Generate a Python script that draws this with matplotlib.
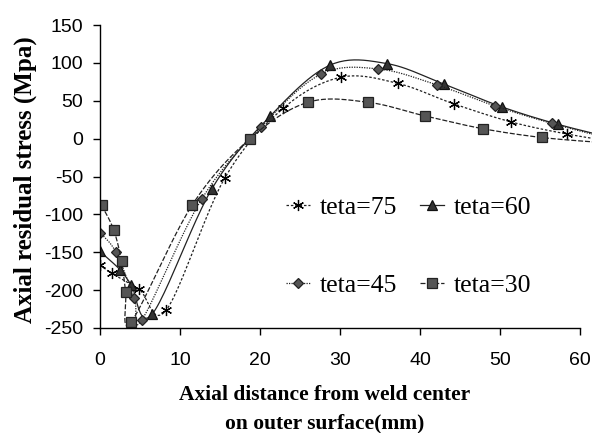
import matplotlib
matplotlib.use('Agg')
import matplotlib.pyplot as plt
import numpy as np

plt.rcParams['axes.unicode_minus'] = False

# axial residual stress along the outer surface, four weld angles
x75 = [0, 1.5, 4.9, 8.3, 15.6, 22.9, 30.1, 37.2, 44.2, 51.4, 58.4, 65.5]
y75 = [-167, -178, -199, -226, -52, 40, 81, 73, 46, 22, 6, -6]

x60 = [0, 2.5, 3.9, 6.5, 14.0, 21.3, 28.75, 35.9, 43.0, 50.2, 57.2, 64.4]
y60 = [-149, -173, -193, -232, -66, 30, 97, 99, 72, 42, 19, 0]

x45 = [0, 2.0, 4.3, 5.25, 12.7, 20.1, 27.6, 34.8, 42.1, 49.4, 56.5, 63.7]
y45 = [-124, -150, -211, -239, -80, 15, 85, 92, 71, 43, 20, 0]

x30 = [0.2, 1.7, 2.7, 3.2, 3.9, 11.5, 18.75, 26.0, 33.5, 40.6, 47.9, 55.2, 62.5]
y30 = [-88, -120, -162, -202, -242, -88, 0, 48, 48, 30, 13, 1.5, -5]

labels = ['teta=75', 'teta=60', 'teta=45', 'teta=30']


def smooth(xs, ys, n=24):
    # bezier smoothing through every point (same idea as a spreadsheet "smoothed line")
    p = np.column_stack([xs, ys]).astype(float)
    p = np.vstack([p[0], p, p[-1]])
    t = np.linspace(0, 1, n, endpoint=False)[:, None]
    out = []
    for i in range(1, len(p) - 2):
        p0, p1, p2, p3 = p[i - 1], p[i], p[i + 1], p[i + 2]
        c1 = p1 + (p2 - p0) / 6
        c2 = p2 - (p3 - p1) / 6
        out.append((1 - t)**3 * p1 + 3 * (1 - t)**2 * t * c1
                   + 3 * (1 - t) * t**2 * c2 + t**3 * p2)
    out.append(p[-2][None])
    c = np.vstack(out)
    return c[:, 0], c[:, 1]


fig = plt.figure(figsize=(5.92, 4.33), dpi=100)
ax = fig.add_axes([100/592, 105/433, 492/592, 303/433])

styles = [
    (x75, y75, (6, 2, 0), 8, 'black', 'black', (0, (2, 1.5))),
    (x60, y60, '^', 7, '#333333', '#111111', '-'),
    (x45, y45, 'D', 5.5, '#555555', '#222222', (0, (1, 1))),
    (x30, y30, 's', 7, '#555555', '#222222', (0, (4, 1.5))),
]

handles = []
for (xs, ys, mk, ms, fc, ec, ls), lab in zip(styles, labels):
    sx, sy = smooth(xs, ys)
    ax.plot(sx, sy, color='#222222', lw=0.9, ls=ls)
    ax.plot(xs, ys, ls='none', marker=mk, ms=ms, mfc=fc, mec=ec, mew=0.9)
    h, = ax.plot([], [], color='#222222', lw=0.9, ls=ls, marker=mk, ms=ms,
                 mfc=fc, mec=ec, mew=0.9)
    handles.append(h)

ax.set_xlim(0, 61.5)
ax.set_ylim(-250, 150)
ax.set_xticks(np.arange(0, 61, 10))
ax.set_yticks(np.arange(-250, 151, 50))
ax.spines['top'].set_visible(False)
ax.spines['right'].set_visible(False)
ax.spines['bottom'].set_bounds(0, 60)
ax.spines['left'].set_linewidth(1.0)
ax.spines['bottom'].set_linewidth(1.0)
ax.tick_params(direction='out', length=5, width=1.0)
ax.tick_params(axis='x', pad=12)
ax.tick_params(axis='y', pad=7)
for lb in ax.get_xticklabels() + ax.get_yticklabels():
    lb.set_fontfamily('Liberation Sans')
    lb.set_fontsize(14)

ax.set_ylabel('Axial residual stress (Mpa)', fontfamily='Liberation Serif',
              fontweight='bold', fontsize=18)
ax.yaxis.set_label_coords(-0.128, 0.49)
ax.set_xlabel('Axial distance from weld center\non outer surface(mm)',
              fontfamily='Liberation Serif', fontweight='bold', fontsize=15.5,
              linespacing=1.6)
ax.xaxis.set_label_coords(0.457, -0.188)

order = [0, 2, 1, 3]
ax.legend([handles[i] for i in order], [labels[i] for i in order], ncol=2,
          frameon=False, loc='upper left',
          bbox_to_anchor=(286/592, 1 - 196/433), bbox_transform=fig.transFigure,
          prop={'family': 'Liberation Serif', 'size': 18.5}, numpoints=1,
          handlelength=0.95, handletextpad=0.35, columnspacing=0.9,
          labelspacing=2.15, borderpad=0, borderaxespad=0)

fig.savefig('out.png', dpi=100)
